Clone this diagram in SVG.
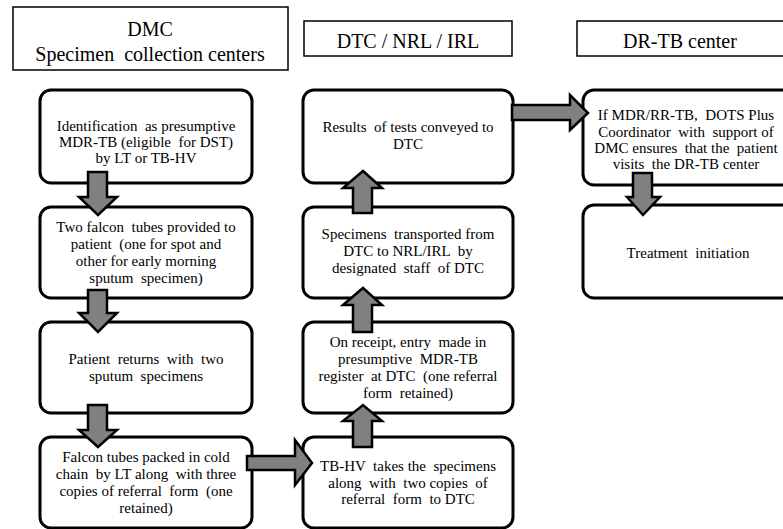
<svg xmlns="http://www.w3.org/2000/svg" width="783" height="529" viewBox="0 0 783 529">
<style>
.hdr{fill:#fff;stroke:#000;stroke-width:1.5}
.box{fill:#fff;stroke:#000;stroke-width:3}
.arr{fill:#808080;stroke:#000;stroke-width:2.5;stroke-linejoin:miter}
text{fill:#000;text-anchor:middle;white-space:pre}
.h{font-size:20px}
.t{font-size:15px}
</style>
<rect width="783" height="529" fill="#fff"/>
<g font-family="Liberation Serif, Times New Roman, serif">
<g id="hdr-dmc"><rect class="hdr" x="13" y="7" width="275" height="63"/><text class="h" x="150" y="36">DMC</text><text class="h" x="150" y="61">Specimen  collection centers</text></g>
<g id="hdr-dtc"><rect class="hdr" x="304" y="21" width="208" height="35"/><text class="h" x="408" y="48">DTC / NRL / IRL</text></g>
<g id="hdr-drtb"><rect class="hdr" x="577" y="21" width="220" height="35"/><text class="h" x="680" y="48">DR-TB center</text></g>

<g id="l1"><rect class="box" x="40" y="90" width="212" height="93" rx="11"/><text class="t" x="146" y="131">Identification  as presumptive</text><text class="t" x="146" y="147">MDR-TB (eligible  for DST)</text><text class="t" x="146" y="163">by LT or TB-HV</text></g>
<g id="l2"><rect class="box" x="40" y="207" width="212" height="91" rx="11"/><text class="t" x="146" y="232">Two falcon  tubes provided to</text><text class="t" x="146" y="249">patient  (one for spot and</text><text class="t" x="146" y="266">other for early morning</text><text class="t" x="146" y="283">sputum  specimen)</text></g>
<g id="l3"><rect class="box" x="40" y="322" width="212" height="91" rx="11"/><text class="t" x="146" y="364">Patient  returns  with  two</text><text class="t" x="146" y="381">sputum  specimens</text></g>
<g id="l4"><rect class="box" x="40" y="437" width="212" height="91" rx="11"/><text class="t" x="146" y="462">Falcon tubes packed in cold</text><text class="t" x="146" y="479">chain  by LT along  with three</text><text class="t" x="146" y="496">copies of referral  form  (one</text><text class="t" x="146" y="513">retained)</text></g>

<g id="m1"><rect class="box" x="303" y="90" width="210" height="93" rx="11"/><text class="t" x="408" y="132">Results  of tests conveyed to</text><text class="t" x="408" y="149">DTC</text></g>
<g id="m2"><rect class="box" x="303" y="207" width="210" height="91" rx="11"/><text class="t" x="408" y="239">Specimens  transported from</text><text class="t" x="408" y="256">DTC to NRL/IRL  by</text><text class="t" x="408" y="273">designated  staff  of DTC</text></g>
<g id="m3"><rect class="box" x="303" y="322" width="210" height="91" rx="11"/><text class="t" x="408" y="347">On receipt, entry  made in</text><text class="t" x="408" y="364">presumptive  MDR-TB</text><text class="t" x="408" y="381">register  at DTC  (one referral</text><text class="t" x="408" y="398">form  retained)</text></g>
<g id="m4"><rect class="box" x="303" y="437" width="210" height="91" rx="11"/><text class="t" x="408" y="471">TB-HV  takes the  specimens</text><text class="t" x="408" y="488">along  with  two copies  of</text><text class="t" x="408" y="504">referral  form  to DTC</text></g>

<g id="r1"><rect class="box" x="583" y="90" width="220" height="95" rx="11"/><text class="t" x="686" y="120">If MDR/RR-TB,  DOTS Plus</text><text class="t" x="686" y="137">Coordinator  with  support of</text><text class="t" x="686" y="153">DMC ensures  that the  patient</text><text class="t" x="686" y="169">visits  the DR-TB center</text></g>
<g id="r2"><rect class="box" x="583" y="205" width="220" height="93" rx="11"/><text class="t" x="688" y="258">Treatment  initiation</text></g>
</g>
<g id="connectors">
<polygon class="arr" points="88,172 107,172 107,197 117,197 98,215 79,197 88,197"/>
<polygon class="arr" points="88,290 107,290 107,313 117,313 98,332 79,313 88,313"/>
<polygon class="arr" points="88,405 107,405 107,430 117,430 98,447 79,430 88,430"/>
<polygon class="arr" points="353,447 372,447 372,421 382,421 363,405 343,421 353,421"/>
<polygon class="arr" points="353,332 372,332 372,305 382,305 363,288 343,305 353,305"/>
<polygon class="arr" points="353,213 372,213 372,188 382,188 363,171 343,188 353,188"/>
<polygon class="arr" points="247,456 295,456 295,440 312,463 295,485 295,470 247,470"/>
<polygon class="arr" points="512,105 570,105 570,95 588,113 570,130 570,120 512,120"/>
<polygon class="arr" points="633,173 652,173 652,197 660,197 643,215 627,197 633,197"/>
</g>
</svg>
